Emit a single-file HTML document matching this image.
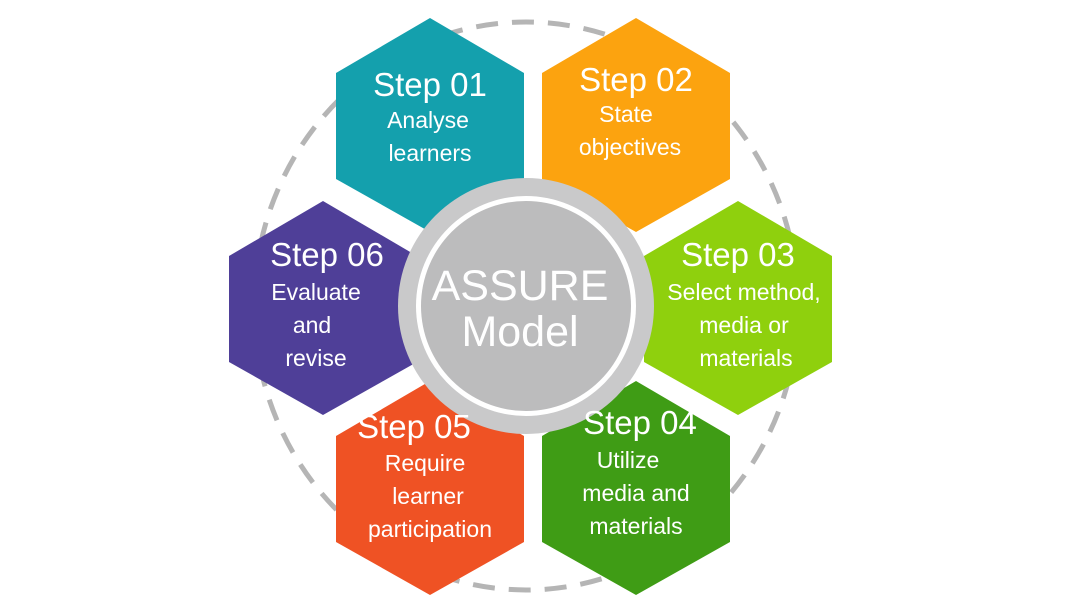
<!DOCTYPE html>
<html><head><style>body{margin:0;background:#fff}svg{display:block}</style></head><body>
<svg width="1080" height="608" viewBox="0 0 1080 608" xmlns="http://www.w3.org/2000/svg" font-family="Liberation Sans, sans-serif">
<ellipse cx="526" cy="306" rx="272" ry="284" fill="none" stroke="#b5b5b5" stroke-width="5" stroke-dasharray="22 14"/>
<defs><polygon id="h" points="0,-107 94,-52 94,54 0,107 -94,54 -94,-52"/></defs>
<use href="#h" x="430" y="125" fill="#14a0ad"/>
<use href="#h" x="636" y="125" fill="#fca30f"/>
<use href="#h" x="323" y="308" fill="#4f3f98"/>
<use href="#h" x="738" y="308" fill="#8fd00d"/>
<use href="#h" x="430" y="488" fill="#ef5224"/>
<use href="#h" x="636" y="488" fill="#3f9c15"/>
<circle cx="526" cy="306" r="128" fill="#c9c9ca"/>
<circle cx="526" cy="306" r="110" fill="#fff"/>
<circle cx="526" cy="306" r="105" fill="#bcbcbd"/>
<g fill="#fff" text-anchor="middle">
<text x="520" y="300" font-size="43">ASSURE</text>
<text x="520" y="346" font-size="43">Model</text>
<g font-size="33"><text x="430" y="96">Step 01</text><text x="636" y="91">Step 02</text><text x="327" y="266">Step 06</text><text x="738" y="266">Step 03</text><text x="414" y="438">Step 05</text><text x="640" y="434">Step 04</text></g>
<g font-size="23">
<text x="428" y="128">Analyse</text><text x="430" y="161">learners</text>
<text x="626" y="122">State</text><text x="630" y="155">objectives</text>
<text x="316" y="300">Evaluate</text><text x="312" y="333">and</text><text x="316" y="366">revise</text>
<text x="744" y="300">Select method,</text><text x="744" y="333">media or</text><text x="746" y="366">materials</text>
<text x="425" y="471">Require</text><text x="428" y="504">learner</text><text x="430" y="537">participation</text>
<text x="628" y="468">Utilize</text><text x="636" y="501">media and</text><text x="636" y="534">materials</text>
</g></g>
</svg>
</body></html>
